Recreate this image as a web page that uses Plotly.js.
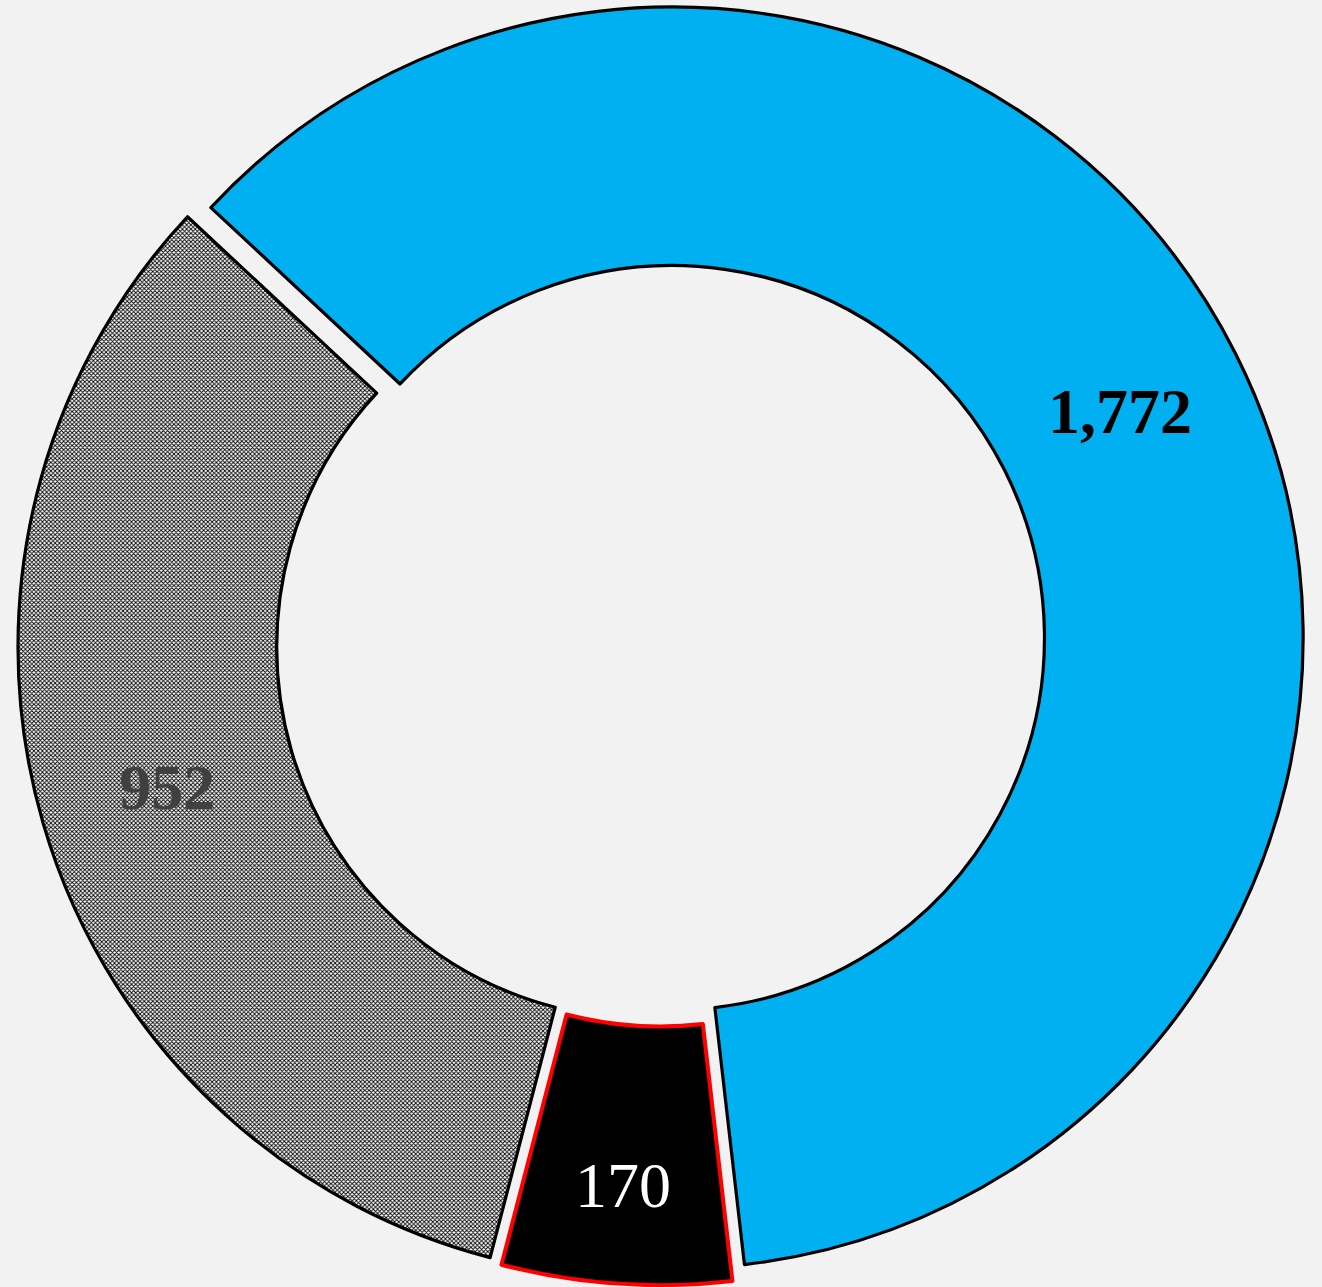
<!DOCTYPE html>
<html>
<head>
<meta charset="utf-8">
<script src="https://cdn.plot.ly/plotly-3.0.1.min.js"></script>
<style>html,body{margin:0;padding:0;background:#F2F2F2;}#chart{width:1322px;height:1287px;}</style>
</head>
<body>
<div id="chart"></div>
<script>
const categories = ['A', 'B', 'C'];
const values = [1772, 170, 952];
const labelTemplates = ['<b>%{value:,}</b>', '%{value:,}', '<b>%{value:,}</b>'];

const trace = {
  type: 'pie',
  labels: categories,
  values: values,
  sort: false,
  direction: 'clockwise',
  rotation: -47,
  hole: 0.59,
  pull: [0.02, 0.017, 0.02],
  texttemplate: labelTemplates,
  textposition: 'inside',
  insidetextorientation: 'horizontal',
  insidetextfont: {
    family: 'Liberation Serif, Times New Roman, serif',
    size: 64,
    color: ['#000000', '#FFFFFF', '#404040']
  },
  marker: {
    colors: ['#00B0F0', '#000000', '#FFFFFF'],
    line: { color: ['#000000', '#FF0000', '#000000'], width: [3.2, 4, 3.2] },
    pattern: {
      shape: ['', '', 'x'],
      fgcolor: '#000000',
      bgcolor: '#FFFFFF',
      size: 3,
      solidity: 0.5
    }
  },
  hoverinfo: 'none',
  showlegend: false
};

const layout = {
  width: 1322,
  height: 1287,
  margin: { l: 0, r: 0, t: 0, b: 0 },
  paper_bgcolor: '#F2F2F2',
  plot_bgcolor: '#F2F2F2',
  showlegend: false
};

Plotly.newPlot('chart', [trace], layout, { displayModeBar: false, staticPlot: true });
</script>
</body>
</html>
